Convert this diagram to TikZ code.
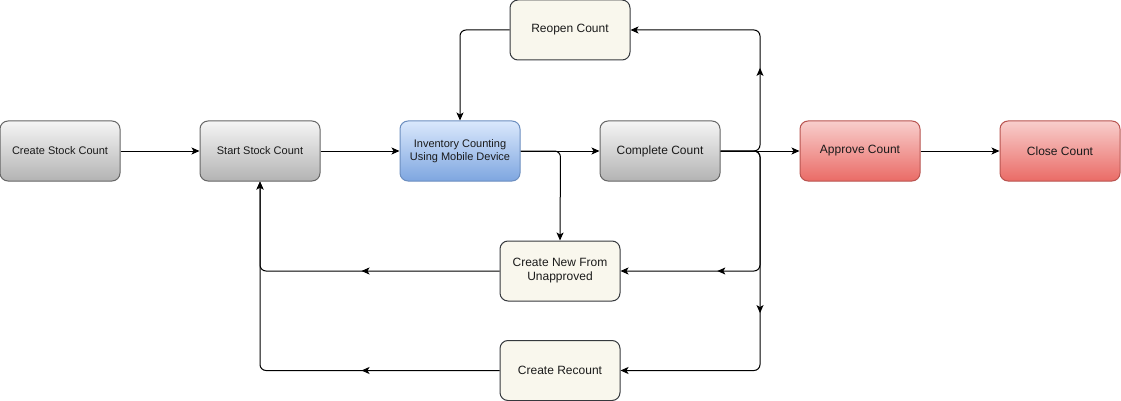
\documentclass[tikz,border=0pt]{standalone}
\usepackage{fontspec}
\setmainfont{Liberation Sans}
\usetikzlibrary{arrows.meta,decorations.markings}
\definecolor{grayTop}{HTML}{F5F5F5}
\definecolor{grayBot}{HTML}{B3B3B3}
\definecolor{grayLine}{HTML}{666666}
\definecolor{blueTop}{HTML}{DAE8FC}
\definecolor{blueBot}{HTML}{7EA6E0}
\definecolor{blueLine}{HTML}{6C8EBF}
\definecolor{redTop}{HTML}{F8CECC}
\definecolor{redBot}{HTML}{EA6B66}
\definecolor{redLine}{HTML}{B85450}
\definecolor{beigeFill}{HTML}{F9F7ED}
\definecolor{beigeLine}{HTML}{36393D}
\definecolor{txt}{HTML}{1A1A1A}
\tikzset{
  box/.style={rectangle, rounded corners=8pt, minimum width=120pt, minimum height=60pt,
    inner sep=0pt, line width=1pt, align=center, text=txt, font=\fontsize{12}{14}\selectfont},
  smalltxt/.style={font=\fontsize{11}{13.5}\selectfont},
  graybox/.style={box, draw=grayLine, top color=grayTop, bottom color=grayBot},
  bluebox/.style={box, draw=blueLine, top color=blueTop, bottom color=blueBot},
  redbox/.style={box, draw=redLine, top color=redTop, bottom color=redBot},
  beigebox/.style={box, draw=beigeLine, fill=beigeFill},
  conn/.style={line width=1pt, draw=black, rounded corners=6pt, -{Stealth[length=8pt,width=7pt,inset=2pt]}},
  midarrow/.style={postaction={decorate}, decoration={markings,
    mark=at position #1 with {\arrow{Stealth[length=8pt,width=7pt,inset=2pt]}}}}
}
\begin{document}
\begin{tikzpicture}[x=1pt,y=-1pt]
\useasboundingbox (0,0) rectangle (1121,401);
\node[graybox,smalltxt] (create) at (60,151) {Create Stock Count};
\node[graybox,smalltxt] (start) at (260,151) {Start Stock Count};
\node[bluebox,smalltxt] (inv) at (460,151) {Inventory Counting\\Using Mobile Device};
\node[graybox] (complete) at (660,151) {Complete Count};
\node[redbox] (approve) at (860,151) {Approve Count};
\node[redbox] (close) at (1060,151) {Close Count};
\node[beigebox] (reopen) at (570,30) {Reopen Count};
\node[beigebox] (cnew) at (560,271) {Create New From\\Unapproved};
\node[beigebox] (recount) at (560,370.5) {Create Recount};

\coordinate (split) at (760,151);

\draw[conn] (create) -- (start);
\draw[conn] (start) -- (inv);
\draw[conn] (inv) -- (complete);
\draw[conn] (complete) -- (approve);
\draw[conn] (approve) -- (close);

\draw[conn, midarrow=120pt] (complete.east) -- (split) |- (reopen.east);
\draw[conn, midarrow=197pt] (complete.east) -- (split) |- (cnew.east);
\draw[conn, midarrow=199pt] (complete.east) -- (split) |- (recount.east);
\draw[conn] (reopen.west) -| (inv.north);
\draw[conn] (inv.east) -- ++(40,0) -- (cnew.north);
\draw[conn, midarrow=138pt] (cnew.west) -| (start.south);
\draw[conn, midarrow=138pt] (recount.west) -| (start.south);
\end{tikzpicture}
\end{document}
